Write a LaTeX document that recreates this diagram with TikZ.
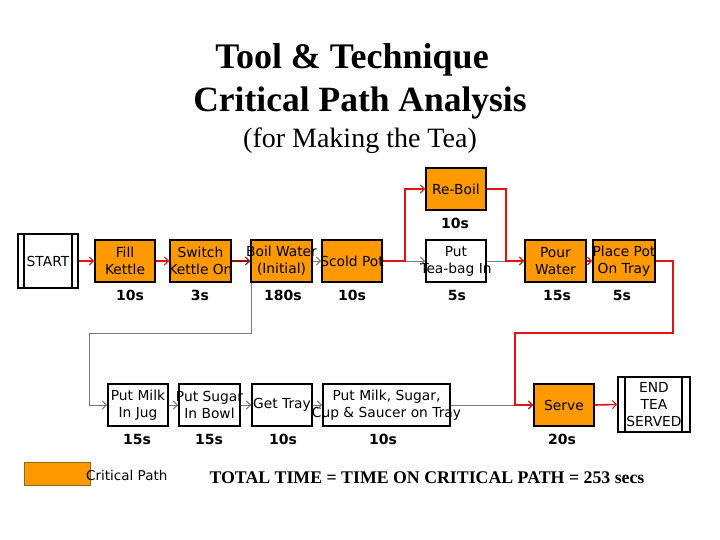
\documentclass[tikz,border=0pt]{standalone}
\usepackage{fontspec}
\setmainfont{Liberation Serif}
\newfontfamily\boxfont{DejaVu Sans}
\usetikzlibrary{arrows.meta}
\definecolor{critorange}{RGB}{255,153,0}
\definecolor{critred}{RGB}{226,18,18}
\definecolor{darkcrit}{RGB}{150,10,10}
\definecolor{plaingray}{RGB}{120,120,120}
\definecolor{legendedge}{RGB}{150,100,30}
\newcommand\zl[1]{\makebox[0pt]{#1}}
\tikzset{
  task/.style={draw=black, line width=1.8pt, minimum width=60pt, minimum height=42pt,
    inner sep=0pt, align=center, font=\boxfont\fontsize{13.8}{17}\selectfont},
  crittask/.style={task, fill=critorange},
  plaintask/.style={task, fill=white},
  termbox/.style={draw=black, line width=1.8pt, fill=white, inner sep=0pt, align=center,
    font=\boxfont\fontsize{13.8}{17}\selectfont},
  dur/.style={font=\boxfont\bfseries\fontsize{14}{16}\selectfont, inner sep=0pt},
  tip/.style={-{Straight Barb[length=4pt,width=8pt,line width=1pt]}},
  crit/.style={tip, draw=critred, line width=1.6pt},
  critdark/.style={tip, draw=darkcrit, line width=1.6pt},
  plainline/.style={tip, draw=plaingray, line width=1pt},
}
\begin{document}
\begin{tikzpicture}[x=1pt,y=-1pt]
\useasboundingbox[fill=white] (0,0) rectangle (720,540);
% titles
\node[font=\bfseries\fontsize{36}{40}\selectfont, inner sep=0pt] (t1) at (352,60) {Tool \& Technique};
\node[font=\bfseries\fontsize{35.5}{40}\selectfont, inner sep=0pt] (t2) at (360,103) {Critical Path Analysis};
\node[font=\fontsize{28}{32}\selectfont, inner sep=0pt] (t3) at (360,141) {(for Making the Tea)};
% terminals
\node[termbox, minimum width=60pt, minimum height=54pt] (START) at (48,261) {START};
\draw[line width=1.8pt] ([xshift=7pt]START.north west) -- ([xshift=7pt]START.south west);
\draw[line width=1.8pt] ([xshift=-7pt]START.north east) -- ([xshift=-7pt]START.south east);
\node[termbox, minimum width=72pt, minimum height=55pt] (END) at (654,404.5) {END\\TEA\\SERVED};
\draw[line width=1.8pt] ([xshift=8pt]END.north west) -- ([xshift=8pt]END.south west);
\draw[line width=1.8pt] ([xshift=-9pt]END.north east) -- ([xshift=-9pt]END.south east);
% row 1
\node[crittask] (Fill) at (125,261) {\zl{Fill}\\\zl{Kettle}};
\node[crittask, minimum width=61pt] (Switch) at (200.5,261) {\zl{Switch}\\\zl{Kettle On}};
\node[crittask, minimum width=61pt] (Boil) at (281.5,261) {\zl{Boil Water}\\\zl{(Initial)}};
\node[crittask] (Scold) at (352,261) {\zl{Scold Pot}};
\node[crittask] (ReBoil) at (456,189) {\zl{Re-Boil}};
\node[plaintask] (Teabag) at (456,261) {\zl{Put}\\\zl{Tea-bag In}};
\node[crittask, minimum width=61pt] (Pour) at (555.5,261) {\zl{Pour}\\\zl{Water}};
\node[crittask, minimum width=62pt] (Place) at (624,261) {\zl{Place Pot}\\\zl{On Tray}};
% row 2
\node[plaintask] (Milk) at (138,405) {\zl{Put Milk}\\\zl{In Jug}};
\node[plaintask, minimum width=61pt] (Sugar) at (209.5,405) {\zl{Put Sugar}\\\zl{In Bowl}};
\node[plaintask] (Tray) at (282,405) {\zl{Get Tray}};
\node[plaintask, minimum width=127pt] (MilkSugar) at (386.5,405) {\zl{Put Milk, Sugar,}\\\zl{Cup \& Saucer on Tray}};
\node[crittask] (Serve) at (564,405) {\zl{Serve}};
% durations
\node[dur] (dFill) at (130,295) {10s};
\node[dur] (dSwitch) at (200,295) {3s};
\node[dur] (dBoil) at (283,295) {180s};
\node[dur] (dScold) at (352,295) {10s};
\node[dur] (dReBoil) at (455,223) {10s};
\node[dur] (dTeabag) at (457,295) {5s};
\node[dur] (dPour) at (557,295) {15s};
\node[dur] (dPlace) at (622,295) {5s};
\node[dur] (dMilk) at (137,439) {15s};
\node[dur] (dSugar) at (209,439) {15s};
\node[dur] (dTray) at (283,439) {10s};
\node[dur] (dMilkSugar) at (383,439) {10s};
\node[dur] (dServe) at (562,439) {20s};
% non-critical connectors
\coordinate (g1) at (89,333);
\draw[plainline] ([xshift=1pt]Boil.south west) |- (g1) |- (Milk.west);
\draw[plainline] (Boil.east) -- (Scold.west);
\draw[plainline] (Scold.east) -- (Teabag.west);
\draw[plainline] (Teabag.east) -- (Pour.west);
\draw[plainline] (Milk.east) -- (Sugar.west);
\draw[plainline] (Sugar.east) -- (Tray.west);
\draw[plainline] (Tray.east) -- (MilkSugar.west);
\draw[plainline] (MilkSugar.east) -- (Serve.west);
% critical connectors
\draw[crit] (START.east) -- (Fill.west);
\draw[crit] (Fill.east) -- (Switch.west);
\draw[critdark] (Switch.east) -- (Boil.west);
\draw[crit] (Scold.east) -- ++(22,0) |- (ReBoil.west);
\draw[crit] (ReBoil.east) -- ++(19,0) |- (Pour.west);
\draw[crit] (Pour.east) -- (Place.west);
\coordinate (c1) at (673,333);
\coordinate (c2) at (515,333);
\draw[crit] (Place.east) -| (c1) -- (c2) |- (Serve.west);
\draw[crit] (Serve.east) -- (END.west);
% legend
\node[draw=legendedge, line width=0.8pt, fill=critorange, minimum width=66pt, minimum height=23pt, inner sep=0pt] (legend) at (57,473.5) {};
\node[font=\boxfont\fontsize{13.5}{16}\selectfont, inner sep=0pt, anchor=west] (legendtext) at (86,475) {Critical Path};
\node[font=\bfseries\fontsize{17.8}{21}\selectfont, inner sep=0pt] (total) at (427,478) {TOTAL TIME = TIME ON CRITICAL PATH = 253 secs};
\end{tikzpicture}
\end{document}
